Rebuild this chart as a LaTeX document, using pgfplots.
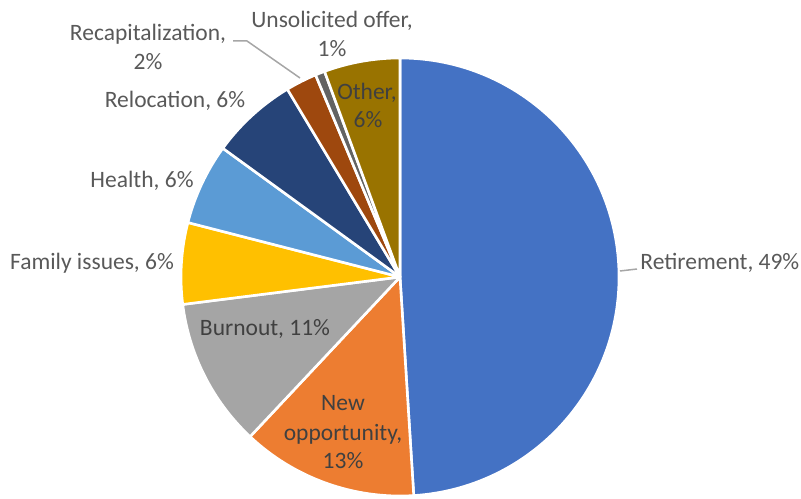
\documentclass[border=0pt]{standalone}
\usepackage{pgfplots}
\pgfplotsset{compat=1.18}
\usepackage{pgfplotstable}
\usepackage{fontspec}
\setmainfont{Carlito}
\definecolor{c1}{HTML}{4472C4}
\definecolor{c2}{HTML}{ED7D31}
\definecolor{c3}{HTML}{A5A5A5}
\definecolor{c4}{HTML}{FFC000}
\definecolor{c5}{HTML}{5B9BD5}
\definecolor{c6}{HTML}{264478}
\definecolor{c7}{HTML}{9E480E}
\definecolor{c8}{HTML}{636363}
\definecolor{c9}{HTML}{997300}
\definecolor{lbl}{HTML}{595959}
\definecolor{lblin}{HTML}{404040}
\definecolor{lead}{HTML}{A6A6A6}
\pgfplotstableread{
label value color
Retirement 49 c1
NewOpportunity 13 c2
Burnout 11 c3
FamilyIssues 6 c4
Health 6 c5
Relocation 6.4 c6
Recapitalization 2.3 c7
UnsolicitedOffer 0.7 c8
Other 5.6 c9
}\piedata
\begin{document}
\begin{tikzpicture}[font=\fontsize{11.75}{14.5}\selectfont]
\begin{axis}[
  x=0.5pt, y=0.5pt,
  xmin=0, xmax=801, ymin=0, ymax=498,
  hide axis, clip=false,
]
\pgfplotstablegetrowsof{\piedata}
\pgfmathtruncatemacro\N{\pgfplotsretval-1}
\gdef\cum{0}
\pgfplotsforeachungrouped \i in {0,...,\N}{%
  \pgfplotstablegetelem{\i}{value}\of\piedata \let\v\pgfplotsretval
  \pgfplotstablegetelem{\i}{color}\of\piedata \let\c\pgfplotsretval
  \pgfmathsetmacro\a{90-3.6*\cum}%
  \pgfmathsetmacro\b{90-3.6*(\cum+\v)}%
  \edef\temp{\noexpand\fill[fill=\c, draw=white, line width=1.3pt, line join=round] (axis cs:400,221) -- ++(\a:109.5pt) arc[start angle=\a, end angle=\b, radius=109.5pt] -- cycle;}%
  \temp
  \pgfmathsetmacro\cum{\cum+\v}%
  \xdef\cum{\cum}%
}
% leader lines
\draw[lead, line width=0.75pt] (axis cs:620,227) -- (axis cs:637,229);
\draw[lead, line width=0.75pt] (axis cs:233,457) -- (axis cs:247,457) -- (axis cs:300,420);
% outside labels
\node[lbl, anchor=base west, inner sep=0pt] at (axis cs:640,228) {Retirement, 49\%};
\node[lbl, anchor=base, inner sep=0pt] at (axis cs:92,228) {Family issues, 6\%};
\node[lbl, anchor=base, inner sep=0pt] at (axis cs:142,310) {Health, 6\%};
\node[lbl, anchor=base, inner sep=0pt] at (axis cs:175,390) {Relocation, 6\%};
\node[lbl, anchor=base, inner sep=0pt] at (axis cs:148,457) {Recapitalization,};
\node[lbl, anchor=base, inner sep=0pt] at (axis cs:148,428) {2\%};
\node[lbl, anchor=base, inner sep=0pt] at (axis cs:332,470) {Unsolicited offer,};
\node[lbl, anchor=base, inner sep=0pt] at (axis cs:332,441) {1\%};
% inside labels
\node[lblin, anchor=base, inner sep=0pt] at (axis cs:367,398) {Other,};
\node[lblin, anchor=base, inner sep=0pt] at (axis cs:368,370) {6\%};
\node[lblin, anchor=base, inner sep=0pt] at (axis cs:265,163) {Burnout, 11\%};
\node[lblin, anchor=base, inner sep=0pt] at (axis cs:343,88) {New};
\node[lblin, anchor=base, inner sep=0pt] at (axis cs:343,58) {opportunity,};
\node[lblin, anchor=base, inner sep=0pt] at (axis cs:343,30) {13\%};
\end{axis}
\pgfresetboundingbox
\path[use as bounding box] (current axis.south west) rectangle (current axis.north east);
\end{tikzpicture}
\end{document}
